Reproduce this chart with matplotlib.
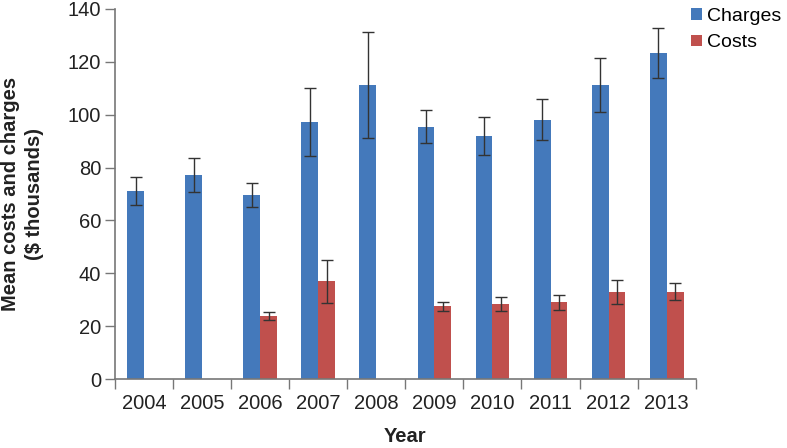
import numpy as np
import matplotlib
matplotlib.use("Agg")
import matplotlib.pyplot as plt

plt.rcParams['font.family'] = ['Liberation Sans', 'DejaVu Sans']

years = ['2004', '2005', '2006', '2007', '2008', '2009', '2010', '2011', '2012', '2013']
charges = [71.3, 77.2, 69.7, 97.2, 111.3, 95.4, 91.9, 98.1, 111.3, 123.4]
charges_err = [5.3, 6.5, 4.5, 12.8, 20.0, 6.3, 7.1, 7.8, 10.2, 9.5]
costs = [0, 0, 23.8, 36.9, 0, 27.6, 28.4, 29.0, 33.0, 33.0]
costs_err = [0, 0, 1.4, 8.0, 0, 1.7, 2.7, 2.8, 4.5, 3.2]

fig = plt.figure(figsize=(7.87, 4.48), dpi=100)
ax = fig.add_axes([0.146, 0.154, 0.738, 0.826])

x = np.arange(len(years))
w = 0.29
has_cost = np.array(costs) > 0

ax.bar(x - w/2, charges, w, color='#4479BB', label='Charges', zorder=2)
ax.bar(x[has_cost] + w/2, np.array(costs)[has_cost], w, color='#C0504D', label='Costs', zorder=2)

ek = dict(ecolor='#333333', elinewidth=1, capsize=4, capthick=1, fmt='none', zorder=3)
ax.errorbar(x - w/2, charges, yerr=charges_err, **ek)
ax.errorbar(x[has_cost] + w/2, np.array(costs)[has_cost], yerr=np.array(costs_err)[has_cost], **ek)

ax.set_xlim(-0.5, len(years) - 0.5)
ax.set_ylim(0, 140)
ax.set_yticks(range(0, 141, 20))
ax.set_xticks(x)
ax.set_xticklabels(years, fontsize=14.5, color='#222222')
ax.tick_params(axis='x', length=0, pad=11)
ax.set_xticks(np.arange(-0.5, len(years), 1), minor=True)
ax.tick_params(axis='x', which='minor', length=7, color='#777777', width=1)
ax.tick_params(axis='y', labelsize=14.5, labelcolor='#222222', length=7, color='#777777', width=1, pad=3)

for s in ['top', 'right']:
    ax.spines[s].set_visible(False)
for s in ['left', 'bottom']:
    ax.spines[s].set_color('#777777')
    ax.spines[s].set_linewidth(1.2)

ax.set_xlabel('Year', fontsize=14.5, fontweight='bold', labelpad=10, color='#222222')
ax.set_ylabel('Mean costs and charges\n($ thousands)', fontsize=14.5, fontweight='bold',
              labelpad=17, color='#222222', linespacing=1.3)

ax.legend(loc='upper left', bbox_to_anchor=(0.975, 1.03), frameon=False, fontsize=14,
          handlelength=0.55, handleheight=0.55, handletextpad=0.3, labelspacing=0.5, borderpad=0)

fig.savefig('out.png', dpi=100)
